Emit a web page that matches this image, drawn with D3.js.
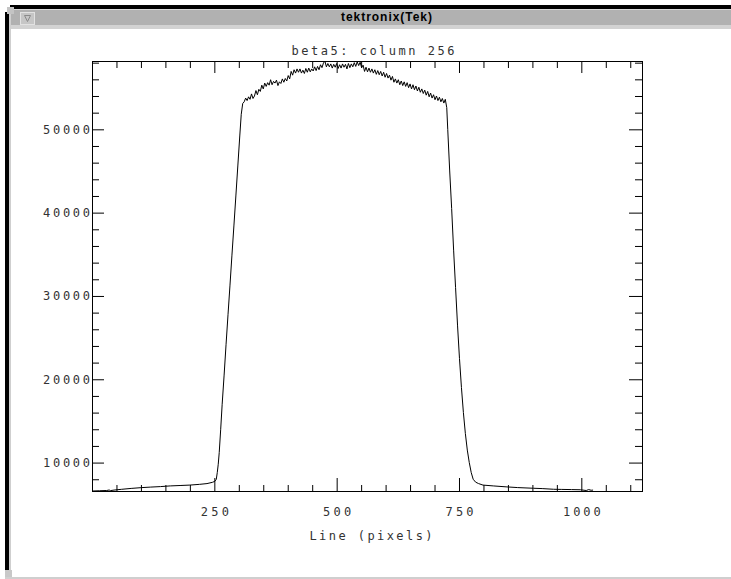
<!DOCTYPE html>
<html>
<head>
<meta charset="utf-8">
<script src="https://cdn.jsdelivr.net/npm/d3@7"></script>
<style>
  body { margin: 0; background: #fff; }
  svg { display: block; }
</style>
</head>
<body>
<svg id="chart" width="731" height="579"></svg>
<script>
// line index along column 256 (pixels)
const linePixels = [
  1, 15, 30, 35, 38, 45, 60, 80, 100, 120, 140, 160, 180, 200, 220, 235, 246, 251,
  254, 256, 258, 260, 263, 266, 270, 274, 278, 282, 286, 290, 294, 298, 302, 305, 308,
  311, 314, 317, 320, 323, 326, 329, 332, 335, 338, 341, 344, 347, 350, 353, 356, 359, 362,
  365, 368, 371, 374, 377, 380, 383, 386, 389, 392, 395, 398, 401, 404, 407, 410, 413, 416,
  419, 422, 425, 428, 431, 434, 437, 440, 443, 446, 449, 452, 455, 458, 461, 464, 467, 470,
  473, 476, 479, 482, 485, 488, 491, 494, 497, 500, 503, 506, 509, 512, 515, 518, 521, 524,
  527, 530, 533, 536, 539, 542, 545, 548, 551, 554, 557, 560, 563, 566, 569, 572, 575, 578,
  581, 584, 587, 590, 593, 596, 599, 602, 605, 608, 611, 614, 617, 620, 623, 626, 629, 632,
  635, 638, 641, 644, 647, 650, 653, 656, 659, 662, 665, 668, 671, 674, 677, 680, 683, 686,
  689, 692, 695, 698, 701, 704, 707, 710, 713, 716, 719, 722,
  725, 727, 731, 735, 739, 743, 747, 751, 755, 759, 763, 767, 771, 775, 779, 784, 790, 799,
  820, 848, 870, 902, 920, 943, 960, 980, 998, 1010, 1015, 1020, 1024
];

// counts
const counts = [
  6590, 6620, 6650, 6710, 6640, 6700, 6790, 6900, 6990, 7060, 7120, 7200, 7250, 7300, 7390, 7480, 7630, 7750,
  8000, 8800, 9800, 11200, 14000, 17000, 20500, 24200, 27800, 31300, 34900, 38400, 42000, 45600, 49200, 51800, 53100,
  53300, 53750, 53450, 53900, 53600, 54250, 53700, 54000, 54650, 54150, 54800, 54550, 55300, 54850, 55550, 55150, 55600, 55300,
  55950, 55350, 55750, 55550, 55900, 55250, 55700, 55500, 56050, 55650, 56100, 55800, 56450, 56050, 56950, 56500, 57150, 56750,
  57250, 56850, 57250, 56750, 57100, 56700, 57300, 56850, 57350, 56900, 57250, 57000, 57500, 57050, 57550, 57150, 57750, 57400,
  57950, 58200, 57500, 57900, 57500, 57850, 57350, 57800, 57450, 57900, 57300, 57750, 57350, 57850, 57450, 57800, 57250, 57900,
  57400, 57850, 57500, 58000, 57550, 58100, 57650, 58050, 57400, 57700, 56950, 57450, 56900, 57350, 56850, 57250, 56750, 57150,
  56600, 57050, 56550, 56950, 56400, 56850, 56250, 56700, 56150, 56500, 55900, 56350, 55650, 56050, 55550, 55950, 55350, 55800,
  55250, 55700, 55150, 55600, 55000, 55450, 54850, 55350, 54750, 55200, 54600, 55050, 54450, 54850, 54300, 54700, 54100, 54550,
  53900, 54350, 53750, 54150, 53550, 54000, 53450, 53850, 53300, 53700, 53150, 53600,
  52600, 50000, 45000, 40500, 35500, 31000, 26500, 22500, 19000, 16000, 13500, 11500, 10000, 8800, 8000, 7650, 7480, 7300,
  7200, 7080, 7000, 6920, 6880, 6800, 6780, 6760, 6740, 6650, 6760, 6680, 6700
];

const xMajorTicks = [250, 500, 750, 1000];
const yMajorTicks = [10000, 20000, 30000, 40000, 50000];
const xMinorStep = 50;
const yMinorStep = 2000;
const xMax = 1124;

const chartTitle = 'beta5: column 256';
const xTitle = 'Line (pixels)';
const windowTitle = 'tektronix(Tek)';

const monoFont = '"DejaVu Sans Mono", "Liberation Mono", monospace';
const charWidth = 9.4;

const svg = d3.select('#chart');
const W = 731, H = 579;
const margin = { top: 61, right: 89, bottom: 88, left: 92 };
const width = W - margin.left - margin.right;   // 550
const height = H - margin.top - margin.bottom;  // 430

// ---- window chrome ----
const chrome = svg.append('g').attr('class', 'chrome');
chrome.append('rect').attr('x', 10).attr('y', 5).attr('width', 721).attr('height', 4).attr('fill', '#000');
chrome.append('rect').attr('x', 10).attr('y', 9).attr('width', 721).attr('height', 16).attr('fill', '#b1b1b1');
chrome.append('rect').attr('x', 10).attr('y', 9).attr('width', 721).attr('height', 1).attr('fill', '#d8d8d8');
chrome.append('rect').attr('x', 10).attr('y', 25).attr('width', 721).attr('height', 4).attr('fill', '#d2d2d2');
chrome.append('rect').attr('x', 5).attr('y', 12).attr('width', 4).attr('height', 558).attr('fill', '#000');
chrome.append('rect').attr('x', 9).attr('y', 12).attr('width', 2).attr('height', 558).attr('fill', '#cfcfcf');
chrome.append('rect').attr('x', 7).attr('y', 7).attr('width', 7).attr('height', 7).attr('fill', '#c4c4c4');
chrome.append('rect').attr('x', 5).attr('y', 570).attr('width', 7).attr('height', 7).attr('fill', '#c8c8c8');
chrome.append('rect').attr('x', 5).attr('y', 577).attr('width', 726).attr('height', 2).attr('fill', '#cfcfcf');
// menu button
chrome.append('rect').attr('x', 20.5).attr('y', 12.5).attr('width', 14).attr('height', 12)
  .attr('fill', '#c6c6c6').attr('stroke', '#e2e2e2');
chrome.append('path').attr('d', 'M24.5,15.5 L30.5,15.5 L27.5,21.5 Z')
  .attr('fill', 'none').attr('stroke', '#8a8a8a');
chrome.append('text')
  .attr('x', 341).attr('y', 21)
  .attr('font-family', '"Liberation Sans", Arial, sans-serif')
  .attr('font-weight', 'bold').attr('font-size', 12)
  .attr('textLength', 91).attr('lengthAdjust', 'spacing')
  .attr('fill', '#000')
  .text(windowTitle);

// ---- plot ----
const g = svg.append('g').attr('transform', `translate(${margin.left},${margin.top})`);

const x = d3.scaleLinear().domain([0, xMax]).range([0, width]);
const y = d3.scaleLinear().domain(d3.extent(counts)).range([height, 0]);

const xMinorTicks = d3.range(0, xMax, xMinorStep).filter(v => !xMajorTicks.includes(v));
const yMinorTicks = d3.range(8000, y.domain()[1], yMinorStep).filter(v => v % 10000 !== 0);

function styleAxis(sel) {
  sel.select('.domain').remove();
  sel.attr('color', '#000')
    .attr('font-family', monoFont)
    .attr('font-size', 12);
  sel.selectAll('text')
    .attr('fill', '#333')
    .attr('textLength', function () { return this.textContent.length * charWidth; })
    .attr('lengthAdjust', 'spacing');
}

// bottom axis
g.append('g').attr('transform', `translate(0,${height})`)
  .call(d3.axisBottom(x).tickValues(xMinorTicks).tickSizeInner(-6).tickSizeOuter(0).tickFormat(''))
  .call(styleAxis);
g.append('g').attr('transform', `translate(0,${height})`)
  .call(d3.axisBottom(x).tickValues(xMajorTicks).tickSizeInner(-13).tickSizeOuter(0).tickPadding(16.5).tickFormat(d3.format('d')))
  .call(styleAxis);

// top axis
g.append('g')
  .call(d3.axisTop(x).tickValues(xMinorTicks).tickSizeInner(-7).tickSizeOuter(0).tickFormat(''))
  .call(styleAxis);
g.append('g')
  .call(d3.axisTop(x).tickValues(xMajorTicks).tickSizeInner(-12).tickSizeOuter(0).tickFormat(''))
  .call(styleAxis);

// left axis
g.append('g')
  .call(d3.axisLeft(y).tickValues(yMinorTicks).tickSizeInner(-7).tickSizeOuter(0).tickFormat(''))
  .call(styleAxis);
g.append('g')
  .call(d3.axisLeft(y).tickValues(yMajorTicks).tickSizeInner(-12).tickSizeOuter(0).tickPadding(2).tickFormat(d3.format('d')))
  .call(styleAxis);

// right axis
g.append('g').attr('transform', `translate(${width},0)`)
  .call(d3.axisRight(y).tickValues(yMinorTicks).tickSizeInner(-7).tickSizeOuter(0).tickFormat(''))
  .call(styleAxis);
g.append('g').attr('transform', `translate(${width},0)`)
  .call(d3.axisRight(y).tickValues(yMajorTicks).tickSizeInner(-13).tickSizeOuter(0).tickFormat(''))
  .call(styleAxis);

// frame
g.append('rect')
  .attr('x', 0.5).attr('y', 0.5)
  .attr('width', width).attr('height', height)
  .attr('fill', 'none').attr('stroke', '#000').attr('stroke-width', 1);

// profile line
const points = linePixels.map((p, i) => [p, counts[i]]);
g.append('path')
  .datum(points)
  .attr('fill', 'none')
  .attr('stroke', '#000')
  .attr('stroke-width', 1)
  .attr('d', d3.line().x(d => x(d[0])).y(d => y(d[1])));

// titles
svg.append('text')
  .attr('x', 373).attr('y', 55)
  .attr('text-anchor', 'middle')
  .attr('font-family', monoFont).attr('font-size', 12)
  .attr('fill', '#333')
  .attr('textLength', chartTitle.length * charWidth + 3).attr('lengthAdjust', 'spacing')
  .text(chartTitle);

svg.append('text')
  .attr('x', 371).attr('y', 540)
  .attr('text-anchor', 'middle')
  .attr('font-family', monoFont).attr('font-size', 12)
  .attr('fill', '#333')
  .attr('textLength', xTitle.length * charWidth + 1).attr('lengthAdjust', 'spacing')
  .text(xTitle);
</script>
</body>
</html>
